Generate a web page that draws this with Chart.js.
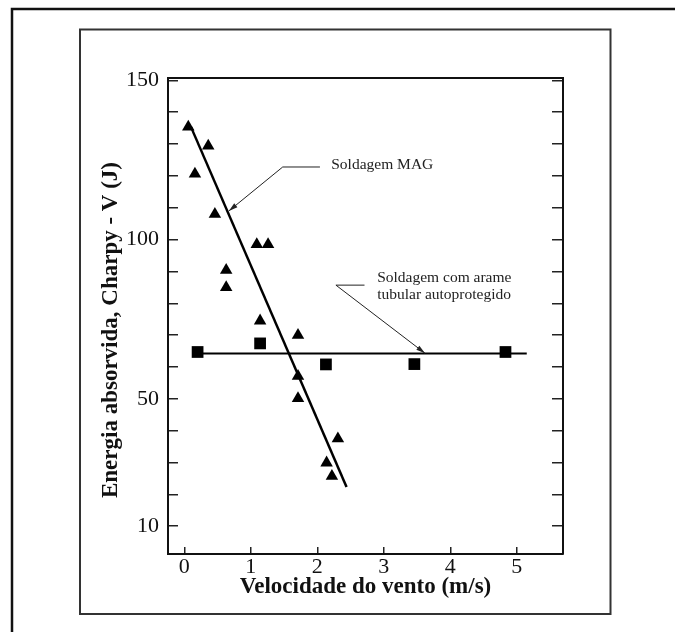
<!DOCTYPE html>
<html lang="pt-br">
<head>
    <meta charset="UTF-8">
    <title>Energia absorvida x velocidade do vento</title>
    <script src="https://cdn.jsdelivr.net/npm/chart.js"></script>
    <style>
        body {
            margin: 0;
            background-color: #ffffff;
        }

        .chart-wrapper {
            width: 675px;
            height: 632px;
        }
    </style>
</head>
<body>
    <div class="chart-wrapper">
        <canvas id="charpyChart"></canvas>
    </div>

    <script>
        // eixos
        const xTicks = [0, 1, 2, 3, 4, 5];
        const yTicks = [10, 20, 30, 40, 50, 60, 70, 80, 90, 100, 110, 120, 130, 140, 150];
        const yLabels = [10, 50, 100, 150];

        // soldagem MAG (triangulos)
        const magX = [0.06, 0.16, 0.36, 0.46, 0.63, 0.63, 1.09, 1.26, 1.14, 1.71, 1.71, 1.71, 2.31, 2.14, 2.22];
        const magY = [135.4, 120.6, 129.4, 108.0, 90.4, 85.0, 98.5, 98.5, 74.5, 70.0, 57.1, 50.1, 37.5, 29.9, 25.7];

        // arame tubular autoprotegido (quadrados)
        const tubX = [0.20, 1.14, 2.13, 3.46, 4.83];
        const tubY = [64.7, 67.4, 60.8, 60.9, 64.7];

        // retas de tendencia
        const magFitX = [0.10, 2.44];
        const magFitY = [135.4, 22.3];
        const tubFitX = [0.19, 5.15];
        const tubFitY = [64.2, 64.2];

        // anotacoes (em unidades dos eixos)
        const magNote = ['Soldagem MAG'];
        const magNoteAt = [2.21, 123.4];
        const magArrow = [[2.04, 122.8], [1.48, 122.8], [0.67, 109.0]];
        const tubNote = ['Soldagem com arame', 'tubular autoprotegido'];
        const tubNoteAt = [2.90, 87.9];
        const tubArrow = [[2.71, 85.7], [2.28, 85.7], [3.62, 64.3]];

        const serif = "'Liberation Serif', 'Times New Roman', serif";

        const toPoints = (xs, ys) => xs.map((x, i) => ({ x: x, y: ys[i] }));

        const decorPlugin = {
            id: 'decor',
            beforeDraw(chart) {
                const ctx = chart.ctx;
                ctx.save();
                ctx.fillStyle = '#ffffff';
                ctx.fillRect(0, 0, chart.width, chart.height);
                // moldura externa
                ctx.strokeStyle = '#111111';
                ctx.lineWidth = 2.5;
                ctx.beginPath();
                ctx.moveTo(12, chart.height);
                ctx.lineTo(12, 9);
                ctx.lineTo(chart.width, 9);
                ctx.stroke();
                // moldura interna
                ctx.strokeStyle = '#333333';
                ctx.lineWidth = 2;
                ctx.strokeRect(80, 29.5, 530.5, 584.5);
                ctx.restore();
            },
            afterDraw(chart) {
                const ctx = chart.ctx;
                const sx = chart.scales.x;
                const sy = chart.scales.y;
                const px = p => [sx.getPixelForValue(p[0]), sy.getPixelForValue(p[1])];

                ctx.save();
                // titulo do eixo y
                ctx.fillStyle = '#111111';
                ctx.font = 'bold 23px ' + serif;
                ctx.textAlign = 'center';
                ctx.textBaseline = 'middle';
                ctx.translate(111, 330);
                ctx.rotate(-Math.PI / 2);
                ctx.fillText('Energia absorvida, Charpy - V (J)', 0, 0);
                ctx.restore();

                function drawNote(lines, at, arrow) {
                    ctx.save();
                    ctx.fillStyle = '#222222';
                    ctx.font = '15.5px ' + serif;
                    ctx.textAlign = 'left';
                    ctx.textBaseline = 'middle';
                    const p = px(at);
                    lines.forEach((t, i) => ctx.fillText(t, p[0], p[1] + i * 17));

                    const pts = arrow.map(px);
                    ctx.strokeStyle = '#222222';
                    ctx.lineWidth = 1;
                    ctx.beginPath();
                    ctx.moveTo(pts[0][0], pts[0][1]);
                    pts.slice(1).forEach(q => ctx.lineTo(q[0], q[1]));
                    ctx.stroke();

                    const a = pts[pts.length - 2];
                    const b = pts[pts.length - 1];
                    const ang = Math.atan2(b[1] - a[1], b[0] - a[0]);
                    ctx.beginPath();
                    ctx.moveTo(b[0], b[1]);
                    ctx.lineTo(b[0] - 9 * Math.cos(ang) + 2.5 * Math.sin(ang), b[1] - 9 * Math.sin(ang) - 2.5 * Math.cos(ang));
                    ctx.lineTo(b[0] - 9 * Math.cos(ang) - 2.5 * Math.sin(ang), b[1] - 9 * Math.sin(ang) + 2.5 * Math.cos(ang));
                    ctx.closePath();
                    ctx.fillStyle = '#222222';
                    ctx.fill();
                    ctx.restore();
                }

                drawNote(magNote, magNoteAt, magArrow);
                drawNote(tubNote, tubNoteAt, tubArrow);
            }
        };

        const ctx = document.getElementById('charpyChart').getContext('2d');
        new Chart(ctx, {
            type: 'scatter',
            data: {
                datasets: [
                    {
                        label: 'Soldagem MAG',
                        data: toPoints(magX, magY),
                        pointStyle: 'triangle',
                        pointRadius: 7.2,
                        backgroundColor: '#000000',
                        borderColor: '#000000',
                        borderWidth: 0
                    },
                    {
                        label: 'Soldagem com arame tubular autoprotegido',
                        data: toPoints(tubX, tubY),
                        pointStyle: 'rect',
                        pointRadius: 8.3,
                        backgroundColor: '#000000',
                        borderColor: '#000000',
                        borderWidth: 0
                    },
                    {
                        label: 'Reta MAG',
                        data: toPoints(magFitX, magFitY),
                        showLine: true,
                        pointRadius: 0,
                        borderColor: '#000000',
                        borderWidth: 2.5
                    },
                    {
                        label: 'Reta arame tubular',
                        data: toPoints(tubFitX, tubFitY),
                        showLine: true,
                        pointRadius: 0,
                        borderColor: '#000000',
                        borderWidth: 2
                    }
                ]
            },
            options: {
                responsive: true,
                maintainAspectRatio: false,
                animation: false,
                layout: { padding: 0 },
                plugins: {
                    legend: { display: false },
                    tooltip: { enabled: false }
                },
                scales: {
                    x: {
                        type: 'linear',
                        position: 'bottom',
                        min: -0.245,
                        max: 5.695,
                        afterBuildTicks: s => { s.ticks = xTicks.map(v => ({ value: v })); },
                        afterFit: s => { s.height = 78; },
                        grid: { drawOnChartArea: false, drawTicks: true, tickLength: -7, color: '#222222', lineWidth: 1.5 },
                        border: { display: true, color: '#111111', width: 2 },
                        ticks: {
                            padding: 7,
                            color: '#111111',
                            autoSkip: false,
                            maxRotation: 0,
                            font: { family: serif, size: 22 }
                        },
                        title: {
                            display: true,
                            text: 'Velocidade do vento (m/s)',
                            color: '#111111',
                            font: { family: serif, size: 23, weight: 'bold' },
                            padding: { top: 0, bottom: 31 }
                        }
                    },
                    x2: {
                        type: 'linear',
                        position: 'top',
                        min: -0.245,
                        max: 5.695,
                        afterFit: s => { s.height = 78; },
                        grid: { display: false },
                        border: { display: true, color: '#111111', width: 2 },
                        ticks: { display: false }
                    },
                    y: {
                        type: 'linear',
                        position: 'left',
                        min: 1.26,
                        max: 150.75,
                        afterBuildTicks: s => { s.ticks = yTicks.map(v => ({ value: v })); },
                        afterFit: s => { s.width = 168; },
                        grid: { drawOnChartArea: false, drawTicks: true, tickLength: -10, color: '#222222', lineWidth: 1.5 },
                        border: { display: true, color: '#111111', width: 2 },
                        ticks: {
                            padding: 19,
                            color: '#111111',
                            autoSkip: false,
                            font: { family: serif, size: 22 },
                            callback: v => yLabels.includes(v) ? String(v) : ''
                        }
                    },
                    y2: {
                        type: 'linear',
                        position: 'right',
                        min: 1.26,
                        max: 150.75,
                        afterBuildTicks: s => { s.ticks = yTicks.map(v => ({ value: v })); },
                        afterFit: s => { s.width = 112; },
                        grid: { drawOnChartArea: false, drawTicks: true, tickLength: -11, color: '#222222', lineWidth: 1.5 },
                        border: { display: true, color: '#111111', width: 2 },
                        ticks: { autoSkip: false, callback: () => '' }
                    }
                }
            },
            plugins: [decorPlugin]
        });
    </script>
</body>
</html>
